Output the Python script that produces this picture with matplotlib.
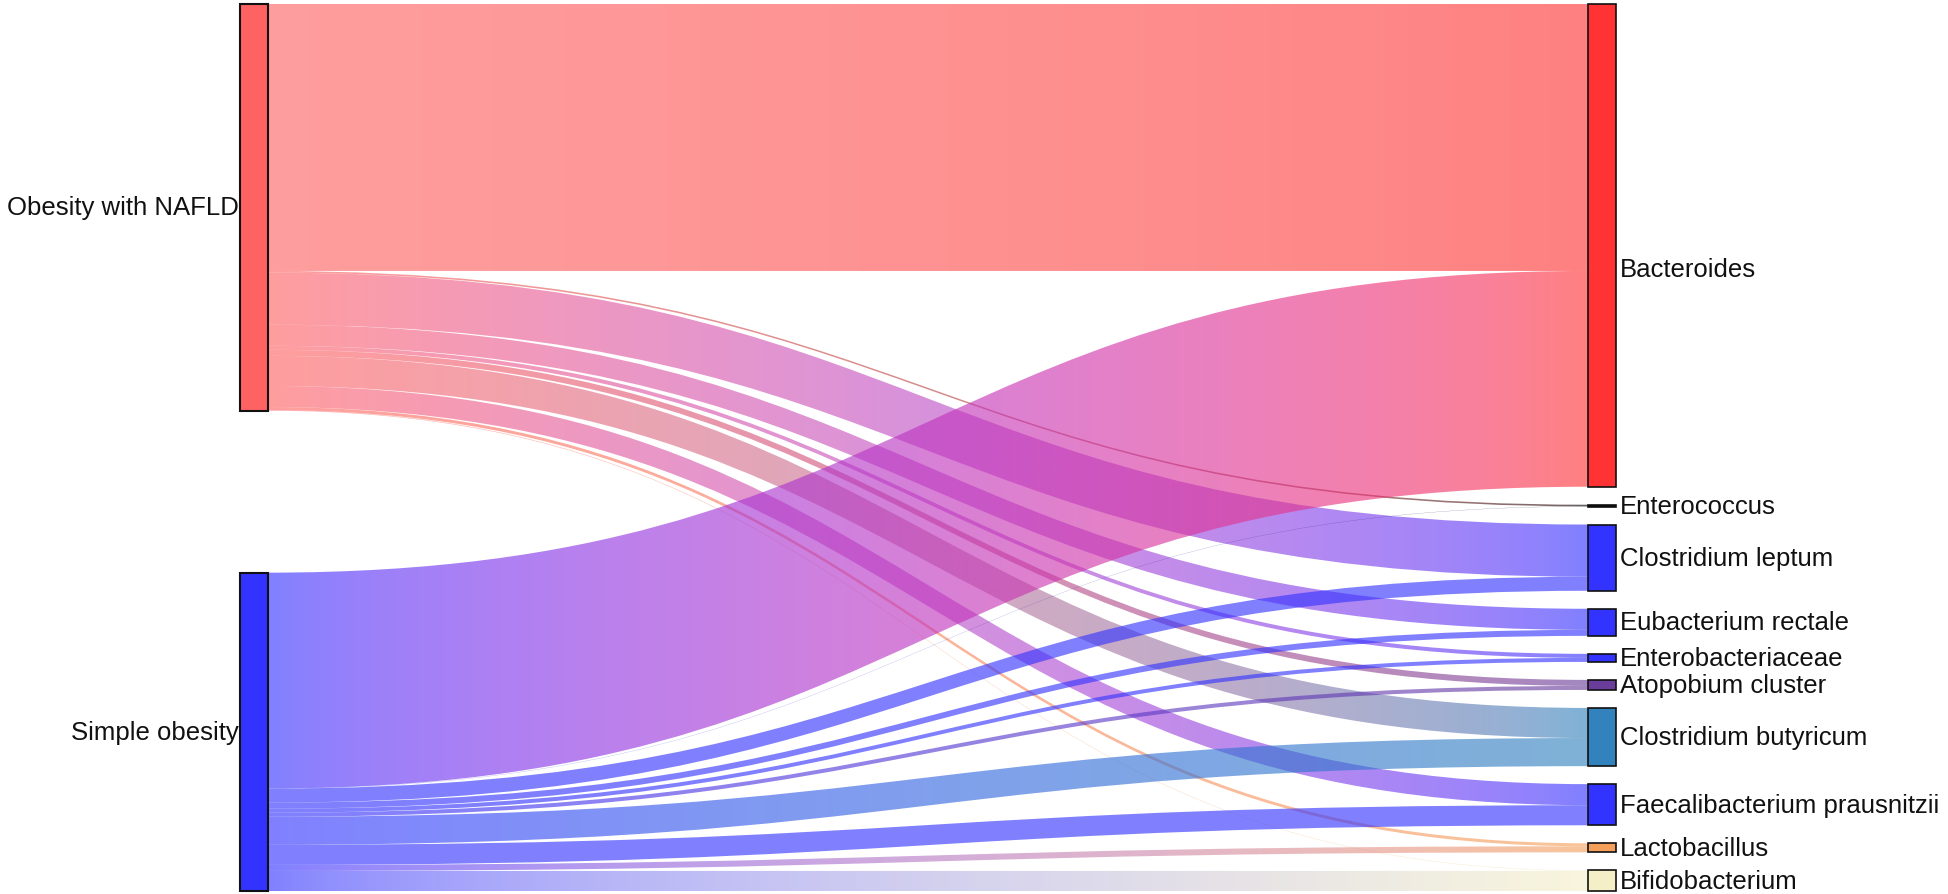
import numpy as np
import matplotlib
matplotlib.use("Agg")
import matplotlib.pyplot as plt
from matplotlib.path import Path
from matplotlib.patches import PathPatch, Rectangle
from matplotlib.colors import to_rgb

# ---------------- data ----------------
sources = ["Obesity with NAFLD", "Simple obesity"]
targets = ["Bacteroides", "Enterococcus", "Clostridium leptum", "Eubacterium rectale",
           "Enterobacteriaceae", "Atopobium cluster", "Clostridium butyricum",
           "Faecalibacterium prausnitzii", "Lactobacillus", "Bifidobacterium"]
nafld_values = [266, 1.6, 52, 21, 4, 6, 30, 21, 3, 0.6]
simple_values = [215, 0.2, 14, 6, 4, 4, 28, 20, 6, 20]

source_colors = ["#ff6262", "#3333ff"]
target_colors = ["#ff3333", "#000000", "#3333ff", "#3333ff", "#3333ff", "#6a3d9a",
                 "#3182bd", "#3333ff", "#f5a05a", "#f5efc8"]

# ---------------- layout (pixels) ----------------
W, H = 1949, 895
top, bottom = 5, 892
left_x, right_x, node_w = 240, 1588, 28
link_alpha = 0.62

flows = np.array([nafld_values, simple_values], dtype=float)
src_tot = flows.sum(axis=1)
tgt_tot = flows.sum(axis=0)
n_t = len(targets)
gap = 18.0
ky = (bottom - top - gap * (n_t - 1)) / tgt_tot.sum()

t_top = np.zeros(n_t)
y = top
for i in range(n_t):
    t_top[i] = y
    y += tgt_tot[i] * ky + gap
s_h = src_tot * ky
s_top = np.array([top, bottom - s_h[1]])

fig = plt.figure(figsize=(W / 100, H / 100), dpi=100)
ax = fig.add_axes([0, 0, 1, 1])
ax.set_xlim(0, W)
ax.set_ylim(H, 0)
ax.axis("off")

def band_path(xs, sy, xt, ty, w):
    xm = (xs + xt) / 2
    verts = [(xs, sy), (xm, sy), (xm, ty), (xt, ty),
             (xt, ty + w),
             (xm, ty + w), (xm, sy + w), (xs, sy + w),
             (xs, sy)]
    codes = [Path.MOVETO, Path.CURVE4, Path.CURVE4, Path.CURVE4,
             Path.LINETO,
             Path.CURVE4, Path.CURVE4, Path.CURVE4,
             Path.CLOSEPOLY]
    return Path(verts, codes)

def to_lin(c):
    return np.where(c <= 0.04045, c / 12.92, ((c + 0.055) / 1.055) ** 2.4)

def to_srgb(c):
    return np.where(c <= 0.0031308, c * 12.92, 1.055 * np.power(np.clip(c, 0, 1), 1 / 2.4) - 0.055)

xs = left_x + node_w
xt = right_x
s_off = s_top.copy()
ncols = 256
for si in range(len(sources)):
    for ti in range(n_t):
        v = flows[si, ti]
        w = v * ky
        sy = s_off[si]
        ty = t_top[ti] + sum(flows[k, ti] * ky for k in range(si))
        s_off[si] += w
        path = band_path(xs, sy, xt, ty, w)
        patch = PathPatch(path, facecolor="none", edgecolor="none", transform=ax.transData)
        c0 = to_lin(np.array(to_rgb(source_colors[si])))
        c1 = to_lin(np.array(to_rgb(target_colors[ti])))
        tt = np.linspace(0, 1, ncols)[:, None]
        rgb = np.clip(to_srgb(c0 * (1 - tt) + c1 * tt), 0, 1)
        img = np.concatenate([rgb, np.full((ncols, 1), link_alpha)], axis=1)[None, :, :]
        ymin = min(sy, ty) - 2
        ymax = max(sy, ty) + w + 2
        im = ax.imshow(img, extent=(xs, xt, ymax, ymin), aspect="auto",
                       interpolation="bilinear", zorder=1)
        im.set_clip_path(patch)

ax.set_xlim(0, W)
ax.set_ylim(H, 0)

font = "Liberation Sans"
fs = 18.5
for si, name in enumerate(sources):
    ax.add_patch(Rectangle((left_x, s_top[si]), node_w, s_h[si], facecolor=source_colors[si],
                           edgecolor="#111111", linewidth=1.5, zorder=3))
    ax.text(left_x - 1, s_top[si] + s_h[si] / 2, name, ha="right", va="center",
            fontsize=fs, family=font, color="#111111", zorder=4)

label_dy = {"Bacteroides": 24}
for ti, name in enumerate(targets):
    h = tgt_tot[ti] * ky
    ax.add_patch(Rectangle((right_x, t_top[ti]), node_w, h, facecolor=target_colors[ti],
                           edgecolor="#111111", linewidth=1.2, zorder=3))
    ax.text(right_x + node_w + 4, t_top[ti] + h / 2 + label_dy.get(name, 0), name,
            ha="left", va="center", fontsize=fs, family=font, color="#111111", zorder=4)

fig.savefig("out.png", dpi=100, facecolor="white")
